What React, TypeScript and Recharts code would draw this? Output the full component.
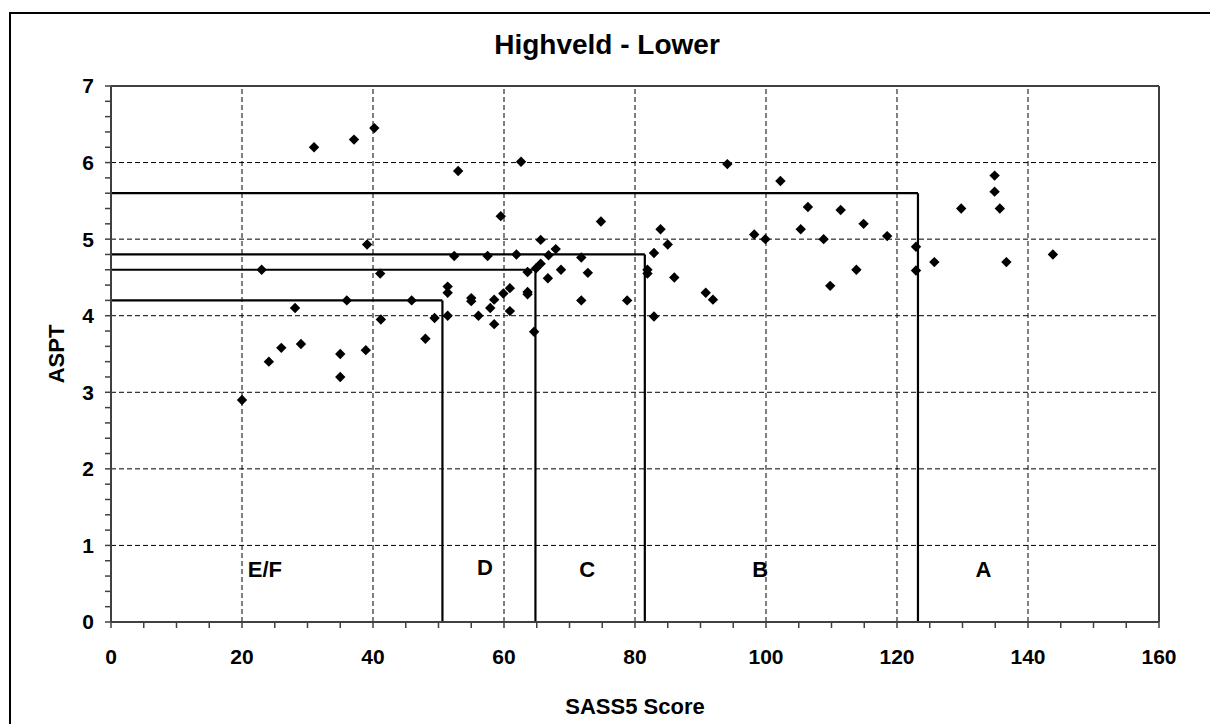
import React from 'react';
import { ScatterChart, Scatter, XAxis, YAxis, ReferenceLine } from 'recharts';

const sassScores = [
  20.0, 23.0, 24.1, 26.0, 28.1, 29.0, 31.0, 35.0, 35.0, 36.0, 37.1, 38.9, 39.1, 40.2, 41.1, 41.2,
  45.9, 48.0, 49.4, 51.4, 51.4, 51.4, 52.4, 53.0, 55.0, 55.0, 56.1, 57.5, 57.9, 58.5, 58.5, 59.5,
  59.9, 60.9, 60.9, 61.9, 62.6, 63.6, 63.6, 63.6, 64.6, 64.9, 65.6, 65.6, 66.7, 66.8, 67.9, 68.7,
  71.8, 71.8, 72.8, 74.8, 78.8, 81.9, 81.9, 82.9, 82.9, 83.9, 85.0, 86.0, 90.8, 91.9, 94.1, 98.2,
  99.9, 102.2, 105.3, 106.4, 108.8, 109.8, 111.4, 113.8, 114.9, 118.5, 122.9, 122.9, 125.7, 129.8,
  134.9, 134.9, 135.7, 136.7, 143.8,
];
const asptValues = [
  2.90, 4.60, 3.40, 3.58, 4.10, 3.63, 6.20, 3.50, 3.20, 4.20, 6.30, 3.55, 4.93, 6.45, 4.55, 3.95,
  4.20, 3.70, 3.97, 4.38, 4.30, 4.00, 4.78, 5.89, 4.23, 4.19, 4.00, 4.78, 4.10, 4.21, 3.89, 5.30,
  4.29, 4.36, 4.06, 4.80, 6.01, 4.57, 4.31, 4.28, 3.79, 4.62, 4.99, 4.68, 4.49, 4.79, 4.87, 4.60,
  4.76, 4.20, 4.56, 5.23, 4.20, 4.60, 4.55, 4.82, 3.99, 5.13, 4.93, 4.50, 4.30, 4.21, 5.98, 5.06,
  5.00, 5.76, 5.13, 5.42, 5.00, 4.39, 5.38, 4.60, 5.20, 5.04, 4.90, 4.59, 4.70, 5.40,
  5.83, 5.62, 5.40, 4.70, 4.80,
];

const boundaryScores = [50.6, 64.8, 81.5, 123.2];
const boundaryAspt = [4.2, 4.6, 4.8, 5.6];

const bandNames = ['E/F', 'D', 'C', 'B', 'A'];
const bandLabelX = [23.5, 57.1, 72.7, 99.1, 133.2];
const bandLabelY = [0.68, 0.71, 0.68, 0.68, 0.68];

const xTicks = [0, 5, 10, 15, 20, 25, 30, 35, 40, 45, 50, 55, 60, 65, 70, 75, 80, 85, 90, 95, 100,
  105, 110, 115, 120, 125, 130, 135, 140, 145, 150, 155, 160];
const yTicks = [0, 0.2, 0.4, 0.6, 0.8, 1, 1.2, 1.4, 1.6, 1.8, 2, 2.2, 2.4, 2.6, 2.8, 3, 3.2, 3.4,
  3.6, 3.8, 4, 4.2, 4.4, 4.6, 4.8, 5, 5.2, 5.4, 5.6, 5.8, 6, 6.2, 6.4, 6.6, 6.8, 7];
const xGrid = [20, 40, 60, 80, 100, 120, 140];
const yGrid = [1, 2, 3, 4, 5, 6];

const points = sassScores.map((x, i) => ({ x, y: asptValues[i] }));
const bandLabels = bandNames.map((name, i) => ({ x: bandLabelX[i], y: bandLabelY[i], name }));

const FONT = '"Liberation Sans", Arial, sans-serif';

const Diamond = (props: any) => {
  const { cx, cy } = props;
  if (cx == null || cy == null) return null;
  const r = 5.2;
  return <path d={`M${cx},${cy - r}L${cx + r},${cy}L${cx},${cy + r}L${cx - r},${cy}Z`} fill="#000" />;
};

const BandText = (props: any) => {
  const { cx, cy, payload } = props;
  if (cx == null || cy == null) return null;
  return (
    <text x={cx} y={cy} textAnchor="middle" dominantBaseline="central" fontFamily={FONT}
      fontWeight="bold" fontSize={22} fill="#000">{payload.name}</text>
  );
};

export default function App() {
  return (
    <div style={{ position: 'absolute', left: 0, top: 0, width: 1210, height: 724, overflow: 'hidden', background: '#fff', fontFamily: FONT }}>
      <div style={{ position: 'absolute', left: 9, top: 12, width: 1400, height: 900, border: '2px solid #000' }} />
      <div style={{ position: 'absolute', left: 0, top: 0 }}>
        <ScatterChart width={1210} height={724} margin={{ top: 86, right: 51, bottom: 42, left: 0 }}>
          <XAxis type="number" dataKey="x" domain={[0, 160]} ticks={xTicks} interval={0}
            allowDataOverflow height={60} tickSize={6} tickMargin={21}
            axisLine={{ stroke: '#404040', strokeWidth: 2 }} tickLine={{ stroke: '#404040', strokeWidth: 1.5 }}
            tick={{ fill: '#000', fontSize: 21, fontWeight: 'bold', fontFamily: FONT }}
            tickFormatter={(v: number) => (v % 20 === 0 ? String(v) : '')} />
          <YAxis type="number" dataKey="y" domain={[0, 7]} ticks={yTicks} interval={0}
            allowDataOverflow width={111} tickSize={6} tickMargin={11}
            axisLine={{ stroke: '#404040', strokeWidth: 2 }} tickLine={{ stroke: '#404040', strokeWidth: 1.5 }}
            tick={{ fill: '#000', fontSize: 21, fontWeight: 'bold', fontFamily: FONT }}
            tickFormatter={(v: number) => (Number.isInteger(v) ? String(v) : '')} />
          {xGrid.map((v) => (
            <ReferenceLine key={'gx' + v} x={v} stroke="#000" strokeWidth={1} strokeDasharray="5 3" />
          ))}
          {yGrid.map((v) => (
            <ReferenceLine key={'gy' + v} y={v} stroke="#000" strokeWidth={1} strokeDasharray="5 3" />
          ))}
          <ReferenceLine y={7} stroke="#404040" strokeWidth={2} />
          <ReferenceLine x={160} stroke="#404040" strokeWidth={2} />
          {boundaryScores.map((bx, i) => (
            <ReferenceLine key={'bh' + i} segment={[{ x: 0, y: boundaryAspt[i] }, { x: bx, y: boundaryAspt[i] }]}
              stroke="#000" strokeWidth={2.2} />
          ))}
          {boundaryScores.map((bx, i) => (
            <ReferenceLine key={'bv' + i} segment={[{ x: bx, y: boundaryAspt[i] }, { x: bx, y: 0 }]}
              stroke="#000" strokeWidth={2.2} />
          ))}
          <Scatter data={points} shape={<Diamond />} isAnimationActive={false} />
          <Scatter data={bandLabels} shape={<BandText />} isAnimationActive={false} />
        </ScatterChart>
      </div>
      <div style={{ position: 'absolute', left: 357, top: 27, width: 500, textAlign: 'center', fontSize: 28, fontWeight: 'bold', lineHeight: '36px', color: '#000' }}>
        Highveld - Lower
      </div>
      <div style={{ position: 'absolute', left: 485, top: 693, width: 300, textAlign: 'center', fontSize: 22, fontWeight: 'bold', lineHeight: '28px', color: '#000' }}>
        SASS5 Score
      </div>
      <div style={{ position: 'absolute', left: 57 - 60, top: 354 - 14, width: 120, textAlign: 'center', fontSize: 22, fontWeight: 'bold', lineHeight: '28px', color: '#000', transform: 'rotate(-90deg)' }}>
        ASPT
      </div>
    </div>
  );
}
